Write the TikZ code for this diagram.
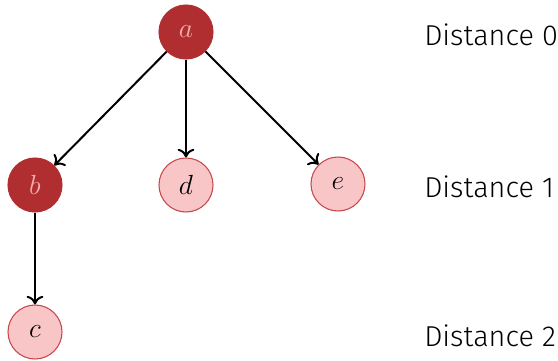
\documentclass[tikz,border=0pt]{standalone}
\usepackage{fontspec}
\setmainfont{Fira Sans Light}
\usetikzlibrary{arrows.meta}
\definecolor{darkred}{HTML}{B12E30}
\definecolor{lightpink}{HTML}{F9C6C8}
\definecolor{pinkborder}{HTML}{C8474B}
\definecolor{pinktext}{HTML}{F2AFB0}
\begin{document}
\begin{tikzpicture}[x=0.75pt,y=-0.75pt,
  every node/.style={font=\fontsize{21.6}{26}\selectfont},
  visited/.style={circle,fill=darkred,draw=darkred,line width=0.8pt,minimum size=40.5pt,inner sep=0pt,text=pinktext},
  unvisited/.style={circle,fill=lightpink,draw=pinkborder,line width=0.8pt,minimum size=40.5pt,inner sep=0pt,text=black},
  edge/.style={line width=1.5pt,-{To[length=6.5pt,width=12.5pt]}},
  dist/.style={anchor=west,inner sep=0pt}]
\useasboundingbox (0,0) rectangle (558,361);
\node[visited] (a) at (186,32) {$a$};
\node[visited] (b) at (35,185) {$b$};
\node[unvisited] (d) at (186,185) {$d$};
\node[unvisited] (e) at (338,184) {$e$};
\node[unvisited] (c) at (35,332) {$c$};
\draw[edge] (a) -- (b);
\draw[edge] (a) -- (d);
\draw[edge] (a) -- (e);
\draw[edge] (b) -- (c);
\node[dist] (l0) at (424,35) {Distance 0};
\node[dist] (l1) at (424,187) {Distance 1};
\node[dist] (l2) at (424,336) {Distance 2};
\end{tikzpicture}
\end{document}
